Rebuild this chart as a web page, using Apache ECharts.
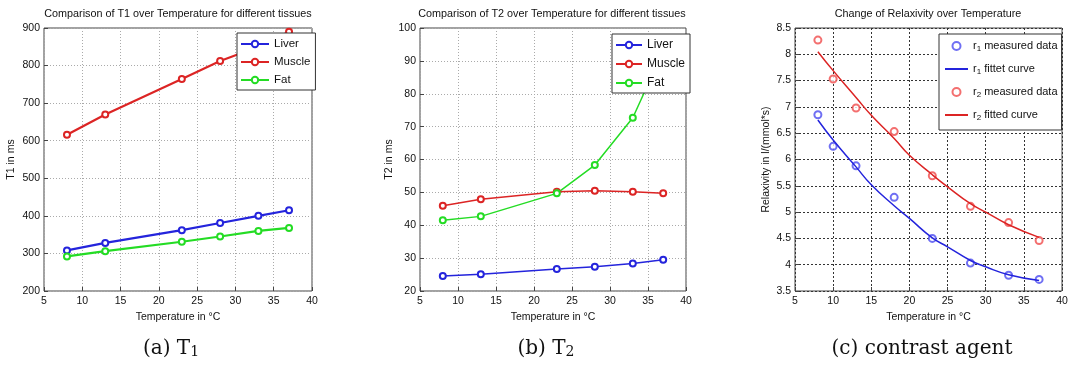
<!DOCTYPE html>
<html>
<head>
<meta charset="utf-8">
<script src="https://cdn.jsdelivr.net/npm/echarts@6/dist/echarts.min.js"></script>
<style>
  html, body { margin: 0; padding: 0; background: #fff; }
  #relaxation { width: 1072px; height: 367px; }
</style>
</head>
<body>
<div id="relaxation"></div>
<script>
// temperatures in degC
var temps = [8, 13, 23, 28, 33, 37];
// T1 in ms
var t1Liver = [308, 328, 362, 381, 400, 415];
var t1Muscle = [616, 670, 764, 812, 850, 890];
var t1Fat = [292, 306, 331, 345, 360, 368];
// T2 in ms
var t2Liver = [24.6, 25.1, 26.7, 27.4, 28.4, 29.5];
var t2Muscle = [45.9, 47.9, 50.2, 50.5, 50.2, 49.7];
var t2Fat = [41.5, 42.7, 49.7, 58.3, 72.7, 93];

// relaxivity of the contrast agent
var relaxTemps = [8, 10, 13, 18, 23, 28, 33, 37];
var r1Measured = [6.85, 6.25, 5.88, 5.28, 4.50, 4.03, 3.80, 3.72];
var r2Measured = [8.27, 7.53, 6.98, 6.53, 5.69, 5.11, 4.80, 4.46];
var fitTemps = [8, 10, 13, 15, 18, 20, 23, 25, 28, 30, 33, 37];
var r1Fit = [6.75, 6.37, 5.86, 5.52, 5.12, 4.88, 4.51, 4.34, 4.08, 3.96, 3.81, 3.70];
var r2Fit = [8.05, 7.69, 7.18, 6.84, 6.40, 6.08, 5.71, 5.48, 5.16, 5.00, 4.76, 4.52];

// axis ranges
var tempTicks = [5, 40, 5];
var t1Ticks = [200, 900, 100];
var t2Ticks = [20, 100, 10];
var relaxTicks = [3.5, 8.5, 0.5];

var sans = "'Liberation Sans', Arial, sans-serif";
var serif = "'DejaVu Serif', serif";
var blue = "#2424dc";
var red = "#dc2424";
var green = "#24dc24";

function pairs(xs, ys) {
  return xs.map(function (x, i) {
    return [x, ys[i]];
  });
}

function xAxis(idx, dark) {
  return {
    type: "value",
    gridIndex: idx,
    min: tempTicks[0],
    max: tempTicks[1],
    interval: tempTicks[2],
    name: "Temperature in °C",
    nameLocation: "middle",
    nameGap: 20,
    nameTextStyle: { fontSize: 10.5, color: "#111", fontFamily: sans },
    axisLine: { show: false },
    axisTick: { show: true, inside: true, length: 4, lineStyle: { color: "#444" } },
    axisLabel: { fontSize: 10.5, color: "#111", margin: 5, fontFamily: sans },
    splitLine: {
      show: true,
      lineStyle: dark ? { color: "#333", type: [2, 2] } : { color: "#aaa", type: [1, 2] },
    },
  };
}

function yAxis(idx, ticks, name, gap, dark) {
  return {
    type: "value",
    gridIndex: idx,
    min: ticks[0],
    max: ticks[1],
    interval: ticks[2],
    name: name,
    nameLocation: "middle",
    nameGap: gap,
    nameTextStyle: { fontSize: 10.5, color: "#111", fontFamily: sans },
    axisLine: { show: false },
    axisTick: { show: true, inside: true, length: 4, lineStyle: { color: "#444" } },
    axisLabel: { fontSize: 10.5, color: "#111", margin: 4, fontFamily: sans },
    splitLine: {
      show: true,
      lineStyle: dark ? { color: "#333", type: [2, 2] } : { color: "#aaa", type: [1, 2] },
    },
  };
}

function tissueLine(name, idx, xs, ys, color, width) {
  return {
    name: name,
    type: "line",
    xAxisIndex: idx,
    yAxisIndex: idx,
    data: pairs(xs, ys),
    symbol: "emptyCircle",
    symbolSize: 6,
    color: color,
    lineStyle: { width: width, color: color },
    itemStyle: { color: color, borderWidth: 1.5 },
  };
}

function gridBox(left, width) {
  return {
    left: left,
    top: 28,
    width: width,
    height: 263,
    show: true,
    borderColor: "#444",
    borderWidth: 1,
    backgroundColor: "#fff",
    outerBoundsMode: "none",
  };
}

function title(x, text) {
  return {
    type: "text",
    x: x,
    y: 14,
    style: {
      text: text,
      font: "10.8px " + sans,
      fill: "#111",
      align: "center",
      verticalAlign: "middle",
    },
  };
}

function caption(x, text) {
  return {
    type: "text",
    x: x,
    y: 349,
    style: {
      text: text,
      font: "20px " + serif,
      fill: "#111",
      align: "center",
      verticalAlign: "middle",
      rich: { sub: { font: "14px " + serif, fill: "#111", verticalAlign: "bottom" } },
    },
  };
}

var option = {
  animation: false,
  grid: [gridBox(44, 268), gridBox(420, 266), gridBox(795, 267)],
  xAxis: [xAxis(0), xAxis(1), xAxis(2, true)],
  yAxis: [
    yAxis(0, t1Ticks, "T1 in ms", 27),
    yAxis(1, t2Ticks, "T2 in ms", 23),
    yAxis(2, relaxTicks, "Relaxivity in l/(mmol*s)", 23, true),
  ],
  legend: [
    {
      orient: "vertical",
      left: 237,
      top: 33,
      data: ["Liver", "Muscle", "Fat"],
      backgroundColor: "#fff",
      borderColor: "#333",
      borderWidth: 1,
      padding: [4, 5, 3, 3],
      itemWidth: 28,
      itemHeight: 8,
      itemGap: 4,
      textStyle: { fontSize: 11.5, lineHeight: 14, color: "#111", fontFamily: sans },
    },
    {
      orient: "vertical",
      left: 612,
      top: 34,
      data: ["Liver", "Muscle", "Fat"],
      backgroundColor: "#fff",
      borderColor: "#333",
      borderWidth: 1,
      padding: [4, 5, 3, 3],
      itemWidth: 26,
      itemHeight: 8,
      itemGap: 5,
      textStyle: { fontSize: 12, lineHeight: 14, color: "#111", fontFamily: sans },
    },
    {
      orient: "vertical",
      left: 939,
      top: 34,
      data: [
        "r1 measured data",
        { name: "r1 fittet curve", itemStyle: { opacity: 0 } },
        "r2 measured data",
        { name: "r2 fitted curve", itemStyle: { opacity: 0 } },
      ],
      backgroundColor: "#fff",
      borderColor: "#333",
      borderWidth: 1,
      padding: [5, 4, 8, 5],
      itemWidth: 23,
      itemHeight: 8,
      itemGap: 9,
      formatter: function (name) {
        return name.replace(/^r(\d)/, "r{sub|$1}");
      },
      textStyle: {
        fontSize: 11,
        lineHeight: 14,
        color: "#111",
        fontFamily: sans,
        rich: { sub: { fontSize: 8, verticalAlign: "bottom", fontFamily: sans, color: "#111" } },
      },
    },
  ],
  graphic: [
    title(178, "Comparison of T1 over Temperature for different tissues"),
    title(552, "Comparison of T2 over Temperature for different tissues"),
    title(928, "Change of Relaxivity over Temperature"),
    caption(171, "(a) T{sub|1}"),
    caption(546, "(b) T{sub|2}"),
    caption(922, "(c) contrast agent"),
  ],
  series: [
    tissueLine("Liver", 0, temps, t1Liver, blue, 2.2),
    tissueLine("Muscle", 0, temps, t1Muscle, red, 2.2),
    tissueLine("Fat", 0, temps, t1Fat, green, 2.2),
    tissueLine("Liver", 1, temps, t2Liver, blue, 1.5),
    tissueLine("Muscle", 1, temps, t2Muscle, red, 1.5),
    tissueLine("Fat", 1, temps, t2Fat, green, 1.5),
    {
      name: "r1 measured data",
      type: "scatter",
      xAxisIndex: 2,
      yAxisIndex: 2,
      data: pairs(relaxTemps, r1Measured),
      symbol: "emptyCircle",
      symbolSize: 7,
      color: "#4b4bf0",
      itemStyle: { color: "#4b4bf0", borderColor: "#4b4bf0", borderWidth: 1 },
    },
    {
      name: "r1 fittet curve",
      type: "line",
      xAxisIndex: 2,
      yAxisIndex: 2,
      data: pairs(fitTemps, r1Fit),
      smooth: true,
      symbol: "none",
      color: blue,
      lineStyle: { width: 1.5, color: blue },
    },
    {
      name: "r2 measured data",
      type: "scatter",
      xAxisIndex: 2,
      yAxisIndex: 2,
      data: pairs(relaxTemps, r2Measured),
      symbol: "emptyCircle",
      symbolSize: 7,
      color: "#f04b4b",
      itemStyle: { color: "#f04b4b", borderColor: "#f04b4b", borderWidth: 1 },
    },
    {
      name: "r2 fitted curve",
      type: "line",
      xAxisIndex: 2,
      yAxisIndex: 2,
      data: pairs(fitTemps, r2Fit),
      smooth: true,
      symbol: "none",
      color: red,
      lineStyle: { width: 1.5, color: red },
    },
  ],
};

var chart = echarts.init(document.getElementById("relaxation"));
chart.setOption(option);
</script>
</body>
</html>
